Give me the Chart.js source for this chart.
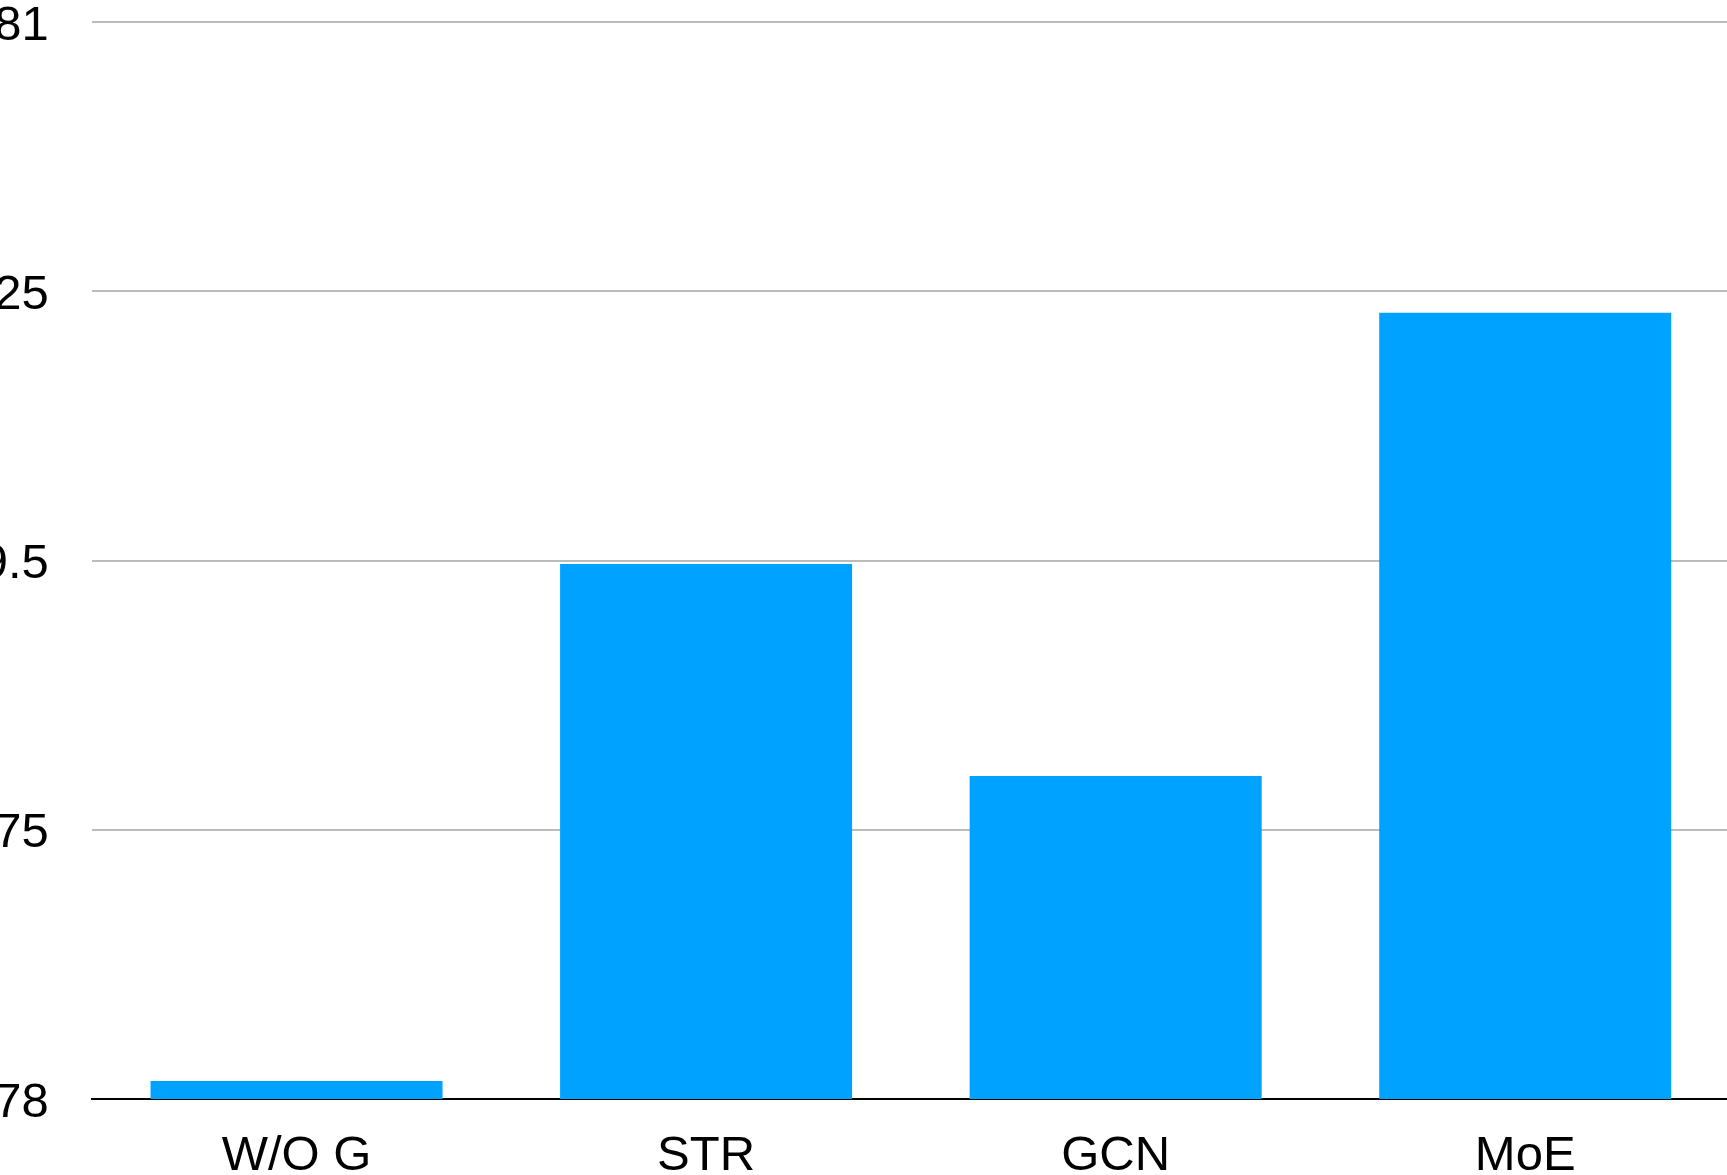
<!DOCTYPE html>
<html>
<head>
<meta charset="utf-8">
<script src="https://cdn.jsdelivr.net/npm/chart.js@4"></script>
<style>
html,body{margin:0;padding:0;background:#fff;overflow:hidden;width:1727px;height:1175px;}
#wrap{position:absolute;left:-100px;top:0;width:1830px;height:1175px;}
</style>
</head>
<body>
<div id="wrap"><canvas id="c"></canvas></div>
<script>
const categories = ["W/O G", "STR", "GCN", "MoE"];
const values = [78.05, 79.49, 78.90, 80.19];
const yMin = 78, yMax = 81, yStep = 0.75;

const FONT = { family: 'Liberation Sans, Arial, Helvetica, sans-serif', size: 49 };

new Chart(document.getElementById('c'), {
  type: 'bar',
  data: {
    labels: categories,
    datasets: [{
      data: values,
      backgroundColor: '#00A2FF',
      borderWidth: 0,
      barPercentage: 0.713,
      categoryPercentage: 1.0
    }]
  },
  options: {
    responsive: true,
    maintainAspectRatio: false,
    animation: false,
    devicePixelRatio: 1,
    layout: { padding: { top: 22, right: 0, bottom: 0, left: 0 } },
    plugins: { legend: { display: false }, tooltip: { enabled: false } },
    scales: {
      x: {
        afterFit: (s) => { s.height = 76; s.paddingLeft = 0; s.paddingRight = 0; },
        grid: { display: false, drawTicks: false },
        border: { display: true, color: '#000', width: 2 },
        ticks: { color: '#000', padding: 28, font: FONT }
      },
      y: {
        min: yMin, max: yMax,
        afterFit: (s) => { s.width = 191.75; s.paddingTop = 0; s.paddingBottom = 0; },
        grid: { color: '#BBBBBB', lineWidth: 2, drawTicks: false },
        border: { display: false },
        ticks: {
          stepSize: yStep,
          color: '#000',
          padding: 43,
          labelOffset: 4,
          font: FONT,
          callback: (v) => String(+v.toFixed(2))
        }
      }
    }
  }
});
</script>
</body>
</html>
